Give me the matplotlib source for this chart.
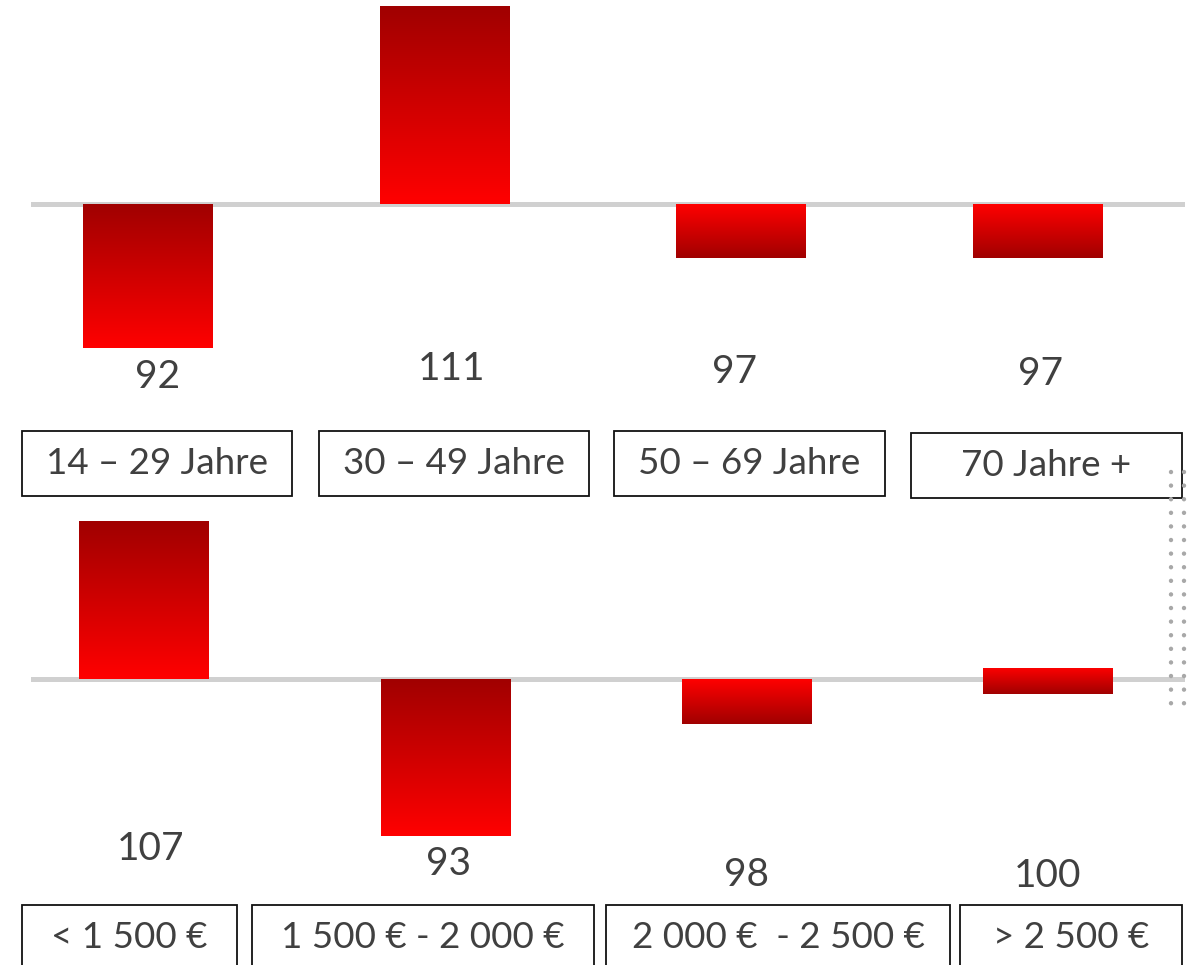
import numpy as np
import matplotlib
matplotlib.use("Agg")
import matplotlib.pyplot as plt
from matplotlib.colors import LinearSegmentedColormap
from matplotlib.patches import Rectangle
from matplotlib.lines import Line2D

plt.rcParams['font.family'] = ['Lato', 'DejaVu Sans']

# ---- data ----
age_labels = ["14 – 29 Jahre", "30 – 49 Jahre", "50 – 69 Jahre", "70 Jahre +"]
age_index = [92, 111, 97, 97]
income_labels = ["< 1 500 €", "1 500 € - 2 000 €", "2 000 €  - 2 500 €", "> 2 500 €"]
income_index = [107, 93, 98, 100]
baseline = 100

# ---- layout / style ----
W, H = 1192, 965
TEXT = "#404040"
cmap = LinearSegmentedColormap.from_list("redgrad", ["#A00000", "#FF0000"])

panels = [
    dict(labels=age_labels, values=age_index, top=0, bottom=500, base_px=204, scale=18.0,
         x0=148, dx=296.5,
         dark_top=[True, True, False, False],
         label_x=[158, 452, 735, 1040],
         label_y=[377, 369, 372, 374],
         box_c=[157, 454, 749.5, 1046.5], box_w=[270, 270, 271, 271],
         box_y=[(431, 496), (431, 496), (431, 496), (433, 498)],
         text_y=[463, 463, 463, 466]),
    dict(labels=income_labels, values=income_index, top=500, bottom=965, base_px=679, scale=22.5,
         x0=144.5, dx=301,
         dark_top=[True, True, False, False],
         label_x=[151, 449, 746, 1048],
         label_y=[849, 864, 875, 876],
         box_c=[129.5, 423, 778, 1071], box_w=[215, 342, 344, 222],
         box_y=[(905, 972)] * 4,
         text_y=[937, 937, 937, 937]),
]

fig = plt.figure(figsize=(W / 100, H / 100), dpi=100)

for p in panels:
    h = p["bottom"] - p["top"]
    ax = fig.add_axes([0, 1 - p["bottom"] / H, 1, h / H])
    ax.set_axis_off()
    ymax = baseline + (p["base_px"] - p["top"]) / p["scale"]
    ymin = baseline - (p["bottom"] - p["base_px"]) / p["scale"]
    x0, dx = p["x0"], p["dx"]
    bar_w = 130 / dx

    def px2x(px):
        return (px - x0) / dx

    def py2ax(py):
        return 1 - (py - p["top"]) / h

    trans = ax.get_xaxis_transform()
    ax.axhline(baseline, xmin=33 / W, xmax=1182 / W, color="#D0D0D0", lw=3.6, zorder=1)

    xs = np.arange(len(p["values"]))
    for i, v in enumerate(p["values"]):
        d = v - baseline
        if abs(d) < 0.5:
            b, t = baseline - 0.67, baseline + 0.49
        else:
            b, t = min(baseline, v), max(baseline, v)
        bars = ax.bar(xs[i], t - b, bottom=b, width=bar_w, color="none", zorder=2)
        rect = bars[0]
        grad = np.linspace(1, 0, 256) if p["dark_top"][i] else np.linspace(0, 1, 256)
        im = ax.imshow(grad.reshape(-1, 1), cmap=cmap, vmin=0, vmax=1, aspect="auto",
                       origin="lower", extent=(xs[i] - bar_w / 2, xs[i] + bar_w / 2, b, t),
                       zorder=2, interpolation="bilinear")
        im.set_clip_path(rect)

        # value label
        ax.text(px2x(p["label_x"][i]), py2ax(p["label_y"][i]), str(v), transform=trans,
                ha="center", va="center", fontsize=28, color=TEXT)

        # category box
        y0, y1 = p["box_y"][i]
        cx = px2x(p["box_c"][i])
        bw = p["box_w"][i] / dx
        ax.add_patch(Rectangle((cx - bw / 2, py2ax(y1)), bw, py2ax(y0) - py2ax(y1),
                               transform=trans, fill=False,
                               edgecolor="#111111", lw=1.3, clip_on=False, zorder=3))
        ax.text(cx, py2ax(p["text_y"][i]), p["labels"][i], transform=trans,
                ha="center", va="center", fontsize=26.5, color=TEXT)

    ax.set_xlim(px2x(0), px2x(W))
    ax.set_ylim(ymin, ymax)

# dotted decoration on the right
for xpx in (1171, 1184):
    fig.add_artist(Line2D([xpx / W, xpx / W], [1 - 472 / H, 1 - 704 / H],
                          color="#A8A8A8", lw=3.2, linestyle=(0, (0.01, 3.05)),
                          dash_capstyle="round", transform=fig.transFigure))

fig.savefig("out.png", dpi=100)
